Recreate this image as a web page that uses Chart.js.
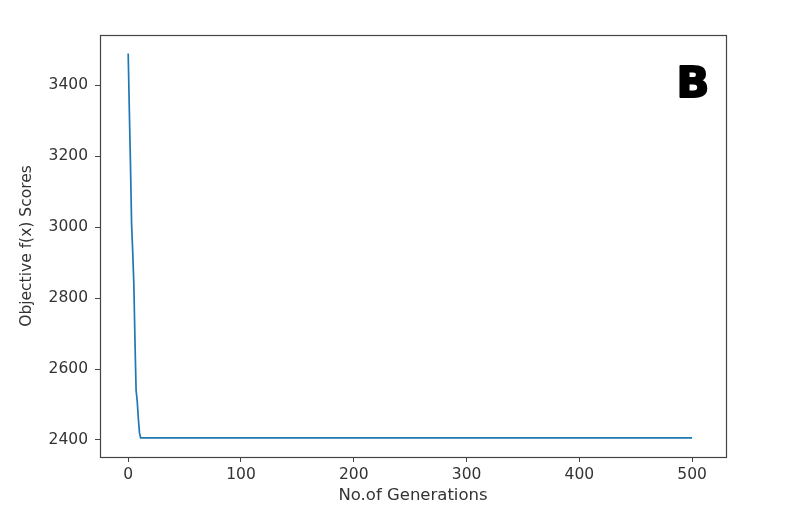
<!DOCTYPE html>
<html><head><meta charset="utf-8">
<script src="https://cdn.jsdelivr.net/npm/chart.js@4"></script>
<style>html,body{margin:0;padding:0;background:#fff}#wrap{width:806px;height:512px}</style>
</head><body><div id="wrap"><canvas id="c" width="806" height="512"></canvas></div>
<script>
const generations = [0, 1, 2, 3, 4, 5, 6, 7, 8, 9, 10, 11, 500];
const scores = [3490, 3330, 3180, 3010, 2930, 2840, 2680, 2540, 2510, 2460, 2420, 2406, 2406];
const xTicks = [0, 100, 200, 300, 400, 500];
const yTicks = [2400, 2600, 2800, 3000, 3200, 3400];
const panelLabel = 'B';

const frame = {
  id: 'frame',
  afterDraw(chart) {
    const {ctx, chartArea: a} = chart;
    ctx.save();
    ctx.strokeStyle = '#444';
    ctx.lineWidth = 1.2;
    ctx.strokeRect(a.left + 0.5, a.top + 0.5, a.right - a.left, a.bottom - a.top);
    ctx.fillStyle = '#000';
    ctx.strokeStyle = '#000';
    ctx.lineWidth = 2;
    ctx.lineJoin = 'round';
    ctx.font = 'bold 43px "DejaVu Sans"';
    ctx.textAlign = 'center';
    ctx.textBaseline = 'alphabetic';
    ctx.strokeText(panelLabel, 693, 97);
    ctx.fillText(panelLabel, 693, 97);
    ctx.restore();
  }
};

const tickFont = { family: 'DejaVu Sans', size: 15.5 };
new Chart(document.getElementById('c'), {
  type: 'scatter',
  data: { datasets: [{
    data: generations.map((g, i) => ({x: g, y: scores[i]})),
    showLine: true, borderColor: '#1f77b4', borderWidth: 1.7,
    pointRadius: 0, fill: false, tension: 0
  }]},
  options: {
    responsive: false, animation: false,
    layout: { padding: { left: 0, right: 80, top: 35, bottom: 0 } },
    plugins: { legend: { display: false }, tooltip: { enabled: false } },
    scales: {
      x: {
        type: 'linear', min: -25, max: 530,
        afterBuildTicks: s => { s.ticks = xTicks.map(v => ({value: v})); },
        afterFit: s => { s.height = 55; },
        grid: { drawOnChartArea: false, drawTicks: true, tickLength: 5, color: '#444' },
        border: { display: false },
        ticks: { color: '#333', font: tickFont, padding: 4, maxRotation: 0, callback: v => String(v) },
        title: { display: true, text: 'No.of Generations', color: '#333', font: { family: 'DejaVu Sans', size: 16.5 }, padding: { top: 0, bottom: 6 } }
      },
      y: {
        type: 'linear', min: 2352, max: 3542,
        afterBuildTicks: s => { s.ticks = yTicks.map(v => ({value: v})); },
        afterFit: s => { s.width = 100; },
        grid: { drawOnChartArea: false, drawTicks: true, tickLength: 5, color: '#444' },
        border: { display: false },
        ticks: { color: '#333', font: tickFont, padding: 7, callback: v => String(v) },
        title: { display: true, text: 'Objective f(x) Scores', color: '#333', font: { family: 'DejaVu Sans', size: 15.5 }, padding: { top: 18, bottom: 0 } }
      }
    }
  },
  plugins: [frame]
});
</script></body></html>
